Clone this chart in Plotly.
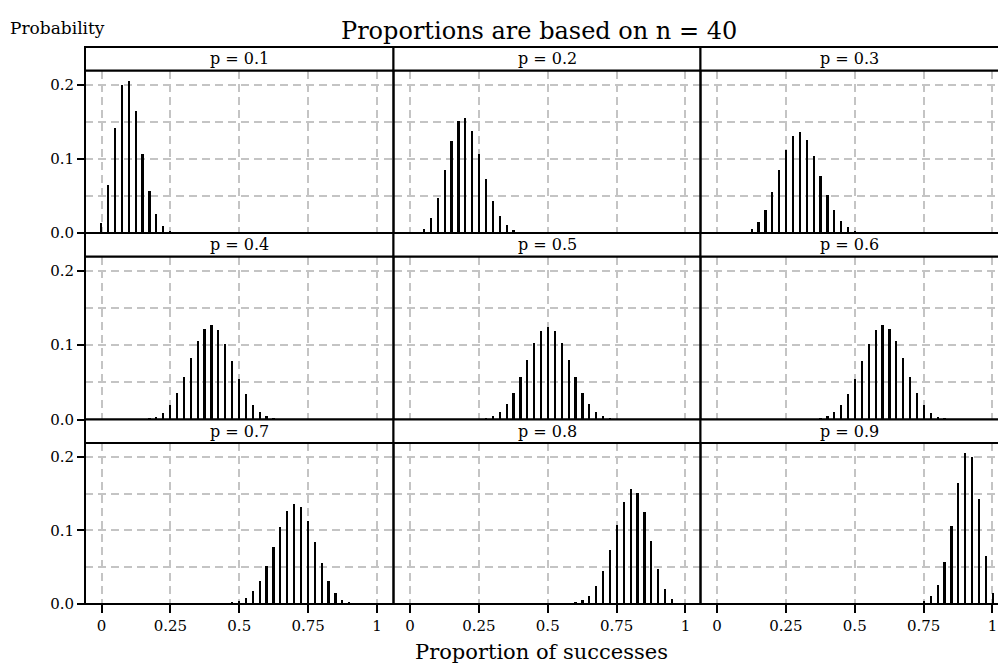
import plotly.graph_objects as go

# ---------------- data ----------------
proportions = [0.0, 0.025, 0.05, 0.075, 0.1, 0.125, 0.15, 0.175, 0.2, 0.225,
               0.25, 0.275, 0.3, 0.325, 0.35, 0.375, 0.4, 0.425, 0.45, 0.475,
               0.5, 0.525, 0.55, 0.575, 0.6, 0.625, 0.65, 0.675, 0.7, 0.725,
               0.75, 0.775, 0.8, 0.825, 0.85, 0.875, 0.9, 0.925, 0.95, 0.975, 1.0]

panel_labels = ["p = 0.1", "p = 0.2", "p = 0.3",
                "p = 0.4", "p = 0.5", "p = 0.6",
                "p = 0.7", "p = 0.8", "p = 0.9"]

prob_p01 = [0.01478, 0.06569, 0.14233, 0.20032, 0.20589, 0.16471, 0.10676, 0.05762, 0.02641, 0.01043,
            0.00359, 0.00109, 0.00029, 0.00007, 0.00002, 0, 0, 0, 0, 0,
            0, 0, 0, 0, 0, 0, 0, 0, 0, 0,
            0, 0, 0, 0, 0, 0, 0, 0, 0, 0, 0]
prob_p02 = [0.00013, 0.00133, 0.00648, 0.02052, 0.04745, 0.08541, 0.12456, 0.15125, 0.15598, 0.13865,
            0.10745, 0.07326, 0.04426, 0.02383, 0.01149, 0.00498, 0.00195, 0.00069, 0.00022, 0.00006,
            0.00002, 0, 0, 0, 0, 0, 0, 0, 0, 0,
            0, 0, 0, 0, 0, 0, 0, 0, 0, 0, 0]
prob_p03 = [0, 0.00001, 0.00009, 0.0005, 0.00196, 0.00606, 0.01515, 0.03154, 0.05576, 0.08496,
            0.11288, 0.13193, 0.13665, 0.12613, 0.10425, 0.07745, 0.05186, 0.03138, 0.01718, 0.00853,
            0.00384, 0.00157, 0.00058, 0.00019, 0.00006, 0.00002, 0, 0, 0, 0,
            0, 0, 0, 0, 0, 0, 0, 0, 0, 0, 0]
prob_p04 = [0, 0, 0, 0, 0.00002, 0.00012, 0.00045, 0.00146, 0.00401, 0.00951,
            0.01965, 0.03573, 0.05757, 0.08267, 0.10629, 0.12282, 0.12794, 0.12041, 0.10257, 0.07918,
            0.05543, 0.03519, 0.02026, 0.01057, 0.00499, 0.00213, 0.00082, 0.00028, 0.00009, 0.00002,
            0, 0, 0, 0, 0, 0, 0, 0, 0, 0, 0]
prob_p05 = [0, 0, 0, 0, 0, 0, 0, 0.00002, 0.00007, 0.00025,
            0.00077, 0.0021, 0.00508, 0.01094, 0.02111, 0.03659, 0.05716, 0.0807, 0.10312, 0.1194,
            0.12537, 0.1194, 0.10312, 0.0807, 0.05716, 0.03659, 0.02111, 0.01094, 0.00508, 0.0021,
            0.00077, 0.00025, 0.00007, 0.00002, 0, 0, 0, 0, 0, 0, 0]
prob_p06 = [0, 0, 0, 0, 0, 0, 0, 0, 0, 0,
            0, 0.00002, 0.00009, 0.00028, 0.00082, 0.00213, 0.00499, 0.01057, 0.02026, 0.03519,
            0.05543, 0.07918, 0.10257, 0.12041, 0.12794, 0.12282, 0.10629, 0.08267, 0.05757, 0.03573,
            0.01965, 0.00951, 0.00401, 0.00146, 0.00045, 0.00012, 0.00002, 0, 0, 0, 0]
prob_p07 = [0, 0, 0, 0, 0, 0, 0, 0, 0, 0,
            0, 0, 0, 0, 0, 0.00002, 0.00006, 0.00019, 0.00058, 0.00157,
            0.00384, 0.00853, 0.01718, 0.03138, 0.05186, 0.07745, 0.10425, 0.12613, 0.13665, 0.13193,
            0.11288, 0.08496, 0.05576, 0.03154, 0.01515, 0.00606, 0.00196, 0.0005, 0.00009, 0.00001, 0]
prob_p08 = [0, 0, 0, 0, 0, 0, 0, 0, 0, 0,
            0, 0, 0, 0, 0, 0, 0, 0, 0, 0,
            0.00002, 0.00006, 0.00022, 0.00069, 0.00195, 0.00498, 0.01149, 0.02383, 0.04426, 0.07326,
            0.10745, 0.13865, 0.15598, 0.15125, 0.12456, 0.08541, 0.04745, 0.02052, 0.00648, 0.00133, 0.00013]
prob_p09 = [0, 0, 0, 0, 0, 0, 0, 0, 0, 0,
            0, 0, 0, 0, 0, 0, 0, 0, 0, 0,
            0, 0, 0, 0, 0, 0, 0.00002, 0.00007, 0.00029, 0.00109,
            0.00359, 0.01043, 0.02641, 0.05762, 0.10676, 0.16471, 0.20589, 0.20032, 0.14233, 0.06569, 0.01478]

series = [prob_p01, prob_p02, prob_p03, prob_p04, prob_p05,
          prob_p06, prob_p07, prob_p08, prob_p09]

x_tickvals = [0, 0.25, 0.5, 0.75, 1]
x_ticktext = ["0", "0.25", "0.5", "0.75", "1"]

title_text = "Proportions are based on n = 40"
y_label = "Probability"
x_label = "Proportion of successes"

# ---------------- layout geometry (pixels) ----------------
W, H = 998, 671
ml, mr, mt, mb = 85, 0, 47, 67
pw = W - ml - mr
ph = H - mt - mb

col_px = [(85, 393.5), (393.5, 700.5), (700.5, 998)]
row_px = [(47, 70.5, 233), (233, 256.5, 419.5), (419.5, 443, 604)]
px_per_unit = (393.5 - 85) / 1.12


def fx(p):
    return (p - ml) / pw


def fy(p):
    return (H - mb - p) / ph


FONT = "DejaVu Serif"
GRID = "#c4c4c4"
DASH = "8px,5px"

fig = go.Figure()
shapes = []
annotations = []

for i, vals in enumerate(series):
    r, c = divmod(i, 3)
    n = i + 1
    xa = "x" if n == 1 else f"x{n}"
    ya = "y" if n == 1 else f"y{n}"
    fig.add_trace(go.Bar(x=proportions, y=vals, xaxis=xa, yaxis=ya,
                         width=0.0062, marker=dict(color="black", line=dict(width=0)),
                         showlegend=False, hoverinfo="x+y"))

    c0, c1 = col_px[c]
    st, pt, pb = row_px[r]
    xmax = -0.06 + (c1 - c0) / px_per_unit
    bottom = (r == 2)
    left = (c == 0)
    xkey = "xaxis" if n == 1 else f"xaxis{n}"
    ykey = "yaxis" if n == 1 else f"yaxis{n}"
    fig.layout[xkey] = dict(
        domain=[fx(c0), fx(c1)], anchor=ya, range=[-0.06, xmax],
        showline=False,
        showgrid=True, gridcolor=GRID, griddash=DASH, gridwidth=1.5,
        zeroline=False, tickvals=x_tickvals, ticktext=x_ticktext,
        ticks="outside" if bottom else "", ticklen=8, tickwidth=2, tickcolor="black",
        showticklabels=bottom, tickfont=dict(family=FONT, size=15, color="black"),
        fixedrange=True,
    )
    fig.layout[ykey] = dict(
        domain=[fy(pb), fy(pt)], anchor=xa, range=[0, 0.219],
        showline=False,
        showgrid=True, gridcolor=GRID, griddash=DASH, gridwidth=1.5,
        zeroline=False, dtick=0.1, tick0=0, tickformat=".1f",
        minor=dict(dtick=0.05, showgrid=True, gridcolor=GRID, griddash=DASH,
                   gridwidth=1.5, ticks=""),
        ticks="outside" if left else "", ticklen=7, tickwidth=2, tickcolor="black",
        showticklabels=left, tickfont=dict(family=FONT, size=15, color="black"),
        fixedrange=True,
    )

    x1s = c1 if c < 2 else 1012
    # panel border
    shapes.append(dict(type="rect", xref="paper", yref="paper",
                       x0=fx(c0), x1=fx(x1s), y0=fy(pb), y1=fy(pt),
                       line=dict(color="black", width=2), fillcolor="rgba(0,0,0,0)",
                       layer="above"))
    # strip
    shapes.append(dict(type="rect", xref="paper", yref="paper",
                       x0=fx(c0), x1=fx(x1s), y0=fy(pt), y1=fy(st),
                       line=dict(color="black", width=2), fillcolor="white", layer="above"))
    annotations.append(dict(xref="paper", yref="paper", x=fx((c0 + c1) / 2),
                            y=fy((st + pt) / 2), text=panel_labels[i], showarrow=False,
                            xanchor="center", yanchor="middle",
                            font=dict(family=FONT, size=16, color="black")))

annotations.append(dict(xref="paper", yref="paper", x=fx(539), y=fy(31),
                        text=title_text, showarrow=False, xanchor="center", yanchor="middle",
                        font=dict(family=FONT, size=24, color="black")))
annotations.append(dict(xref="paper", yref="paper", x=fx(8), y=fy(28),
                        text=y_label, showarrow=False, xanchor="left", yanchor="middle",
                        font=dict(family=FONT, size=17, color="black")))
annotations.append(dict(xref="paper", yref="paper", x=fx(541), y=fy(652),
                        text=x_label, showarrow=False, xanchor="center", yanchor="middle",
                        font=dict(family=FONT, size=21, color="black")))

fig.update_layout(
    width=W, height=H,
    margin=dict(l=ml, r=mr, t=mt, b=mb),
    paper_bgcolor="white", plot_bgcolor="white",
    shapes=shapes, annotations=annotations,
    bargap=0, showlegend=False,
    font=dict(family=FONT, color="black"),
)

fig.write_html("out.html", config={"displayModeBar": False})
